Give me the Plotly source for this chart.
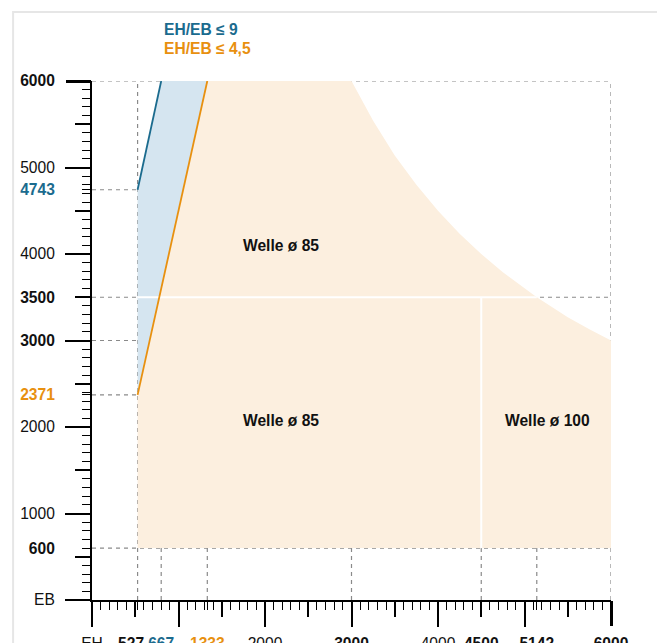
import plotly.graph_objects as go

# ---------------- data ----------------
# blue zone (EH/EB <= 9); its upper corner is drawn where the "667" mark sits
blue_eh = [527, 800, 1333, 527]
blue_eb = [4743, 6000, 6000, 2371]
blue_line_eh = [527, 800]
blue_line_eb = [4743, 6000]
orange_line_eh = [527, 1333]
orange_line_eb = [2371, 6000]

# beige working zone (upper boundary)
zone_eh = [527, 527, 1333, 3000, 3250, 3500, 3750, 4000, 4250, 4500, 4750, 5000, 5142, 5250, 5500, 5750, 6000, 6000, 527]
zone_eb = [600, 2371, 6000, 6000, 5540, 5140, 4800, 4500, 4235, 4000, 3790, 3600, 3500, 3430, 3270, 3130, 3000, 600, 600]

# white separators
sep_h_eh = [527, 5142]
sep_h_eb = [3500, 3500]
sep_v_eh = [4500, 4500]
sep_v_eb = [600, 3500]

# dashed reference lines
dash_h_full = [6000, 3500, 600]          # horizontal, across whole width
dash_h_short = [4743, 3000, 2371]        # horizontal, up to EH = 527
dash_v_full = [527, 6000]                # vertical, whole height
dash_v_low = [800, 1333, 3000, 4500, 5142]  # vertical, below EB = 600

# region labels
labels = ["Welle ø 85", "Welle ø 85", "Welle ø 100"]
label_eh = [2190, 2190, 5270]
label_eb = [4100, 2080, 2075]

# tick labels
x_tickvals = [0, 527, 800, 1333, 2000, 3000, 4000, 4500, 5142, 6000]
x_ticktext = ["EH", "<b>527</b>&nbsp;&nbsp;&nbsp;", "<b>667</b>", "<b>1333</b>", "2000", "<b>3000</b>",
              "4000", "<b>4500</b>", "<b>5142</b>", "<b>6000</b>"]
y_tickvals = [0, 600, 1000, 2000, 2371, 3000, 3500, 4000, 4743, 5000, 6000]
y_ticktext = ["EB", "<b>600</b>", "1000", "2000", "<b>2371</b>", "<b>3000</b>", "<b>3500</b>",
              "4000", "<b>4743</b>", "5000", "<b>6000</b>"]
special_x = [527, 1333, 5142]
special_y = [2371, 4743]

BLUE = "#1b6b8e"
ORANGE = "#e8900f"
BLUE_FILL = "#d5e5f0"
BEIGE = "#fcefdf"
DASH = "#8a8a8a"

def colorize(text, color):
    return f"<span style='color:{color}'>{text}</span>"

x_ticktext = [colorize(t, BLUE) if v == 800 else colorize(t, ORANGE) if v == 1333 else t
              for v, t in zip(x_tickvals, x_ticktext)]
y_ticktext = [colorize(t, BLUE) if v == 4743 else colorize(t, ORANGE) if v == 2371 else t
              for v, t in zip(y_tickvals, y_ticktext)]

FONT = "Liberation Sans, Arial, Helvetica, sans-serif"
FS = 15.6

fig = go.Figure()

fig.add_trace(go.Scatter(x=zone_eh, y=zone_eb, mode="lines", fill="toself",
                         fillcolor=BEIGE, line=dict(width=0), hoverinfo="skip"))
fig.add_trace(go.Scatter(x=blue_eh, y=blue_eb, mode="lines", fill="toself",
                         fillcolor=BLUE_FILL, line=dict(width=0), hoverinfo="skip"))
fig.add_trace(go.Scatter(x=sep_h_eh, y=sep_h_eb, mode="lines",
                         line=dict(color="white", width=2), hoverinfo="skip"))
fig.add_trace(go.Scatter(x=sep_v_eh, y=sep_v_eb, mode="lines",
                         line=dict(color="white", width=2), hoverinfo="skip"))
fig.add_trace(go.Scatter(x=blue_line_eh, y=blue_line_eb, mode="lines",
                         line=dict(color=BLUE, width=1.8), hoverinfo="skip"))
fig.add_trace(go.Scatter(x=orange_line_eh, y=orange_line_eb, mode="lines",
                         line=dict(color=ORANGE, width=1.8), hoverinfo="skip"))
# dummy traces to attach overlay axes
fig.add_trace(go.Scatter(x=[None], y=[None], xaxis="x2", yaxis="y2", hoverinfo="skip"))
fig.add_trace(go.Scatter(x=[None], y=[None], xaxis="x3", yaxis="y3", hoverinfo="skip"))
fig.add_trace(go.Scatter(x=[None], y=[None], xaxis="x4", yaxis="y4", hoverinfo="skip"))

DL = dict(color=DASH, width=1.2, dash="4px,4px")
shapes = []
for v in dash_h_full:
    shapes.append(dict(type="line", x0=0, x1=6000, y0=v, y1=v, xref="x", yref="y",
                       layer="below", line=DL))
for v in dash_h_short:
    shapes.append(dict(type="line", x0=0, x1=527, y0=v, y1=v, xref="x", yref="y",
                       layer="below", line=DL))
for v in dash_v_full:
    shapes.append(dict(type="line", x0=v, x1=v, y0=0, y1=6000, xref="x", yref="y",
                       layer="below", line=DL))
for v in dash_v_low:
    shapes.append(dict(type="line", x0=v, x1=v, y0=0, y1=600, xref="x", yref="y",
                       layer="below", line=DL))
# outer frame
shapes.append(dict(type="rect", xref="paper", yref="paper", x0=-0.152, x1=1.0906,
                   y0=-0.3, y1=1.133, line=dict(color="#e6e6e6", width=2), layer="below"))

annotations = []
for t, xe, ye in zip(labels, label_eh, label_eb):
    annotations.append(dict(x=xe, y=ye, xref="x", yref="y", text=f"<b>{t}</b>",
                            showarrow=False, font=dict(size=FS, color="#111111", family=FONT)))
annotations.append(dict(x=0.135, y=1.100, xref="paper", yref="paper", xanchor="left",
                        yanchor="middle", text="<b>EH/EB ≤ 9</b>", showarrow=False,
                        font=dict(size=FS, color=BLUE, family=FONT)))
annotations.append(dict(x=0.135, y=1.062, xref="paper", yref="paper", xanchor="left",
                        yanchor="middle", text="<b>EH/EB ≤ 4,5</b>", showarrow=False,
                        font=dict(size=FS, color=ORANGE, family=FONT)))

minor_x = [v for v in range(100, 6000, 100) if v % 500 != 0] + special_x
minor_y = [v for v in range(100, 6000, 100) if v % 500 != 0] + special_y

common = dict(range=[0, 6000], showgrid=False, zeroline=False, fixedrange=True, automargin=False)

fig.update_layout(
    width=657, height=635,
    margin=dict(l=84, r=54, t=73, b=43, autoexpand=False),
    paper_bgcolor="white", plot_bgcolor="white",
    showlegend=False,
    font=dict(family=FONT, size=FS, color="#111111"),
    shapes=shapes, annotations=annotations,
    xaxis=dict(**common, showline=True, linecolor="black", linewidth=1.5,
               ticks="outside", tickmode="array", tickvals=list(range(0, 6000, 1000)),
               ticklen=25, tickwidth=1.5, tickcolor="black", showticklabels=False,
               minor=dict(tickmode="array", tickvals=minor_x, ticks="outside",
                          ticklen=8, tickwidth=1.2, tickcolor="black")),
    yaxis=dict(**common, showline=True, linecolor="black", linewidth=1.5,
               ticks="outside", tickmode="array", tickvals=list(range(0, 6000, 1000)),
               ticklen=25, tickwidth=1.5, tickcolor="black", showticklabels=False,
               minor=dict(tickmode="array", tickvals=minor_y, ticks="outside",
                          ticklen=8, tickwidth=1.2, tickcolor="black")),
    xaxis2=dict(**common, overlaying="x", anchor="y2", showline=False, ticks="outside",
                tickmode="array", tickvals=list(range(500, 6000, 1000)), ticklen=16,
                tickwidth=1.5, tickcolor="black", showticklabels=False),
    yaxis2=dict(**common, overlaying="y", anchor="x2", showline=False, ticks="outside",
                tickmode="array", tickvals=list(range(500, 6000, 1000)), ticklen=16,
                tickwidth=1.5, tickcolor="black", showticklabels=False),
    xaxis3=dict(**common, overlaying="x", anchor="y3", showline=False, ticks="outside",
                tickmode="array", tickvals=x_tickvals, ticktext=x_ticktext, ticklen=25,
                tickangle=0, ticklabelstandoff=4, tickcolor="rgba(0,0,0,0)",
                tickfont=dict(size=FS, family=FONT, color="#111111")),
    yaxis3=dict(**common, overlaying="y", anchor="x3", showline=False, ticks="outside",
                tickmode="array", tickvals=y_tickvals, ticktext=y_ticktext, ticklen=25,
                ticklabelstandoff=8, tickcolor="rgba(0,0,0,0)",
                tickfont=dict(size=FS, family=FONT, color="#111111")),
    # heavier end ticks at 6000
    xaxis4=dict(**common, overlaying="x", anchor="y4", showline=False, ticks="outside",
                tickmode="array", tickvals=[6000], ticklen=25, tickwidth=2.5,
                tickcolor="black", showticklabels=False),
    yaxis4=dict(**common, overlaying="y", anchor="x4", showline=False, ticks="outside",
                tickmode="array", tickvals=[6000], ticklen=25, tickwidth=2.5,
                tickcolor="black", showticklabels=False),
)

fig.write_html("out.html")
